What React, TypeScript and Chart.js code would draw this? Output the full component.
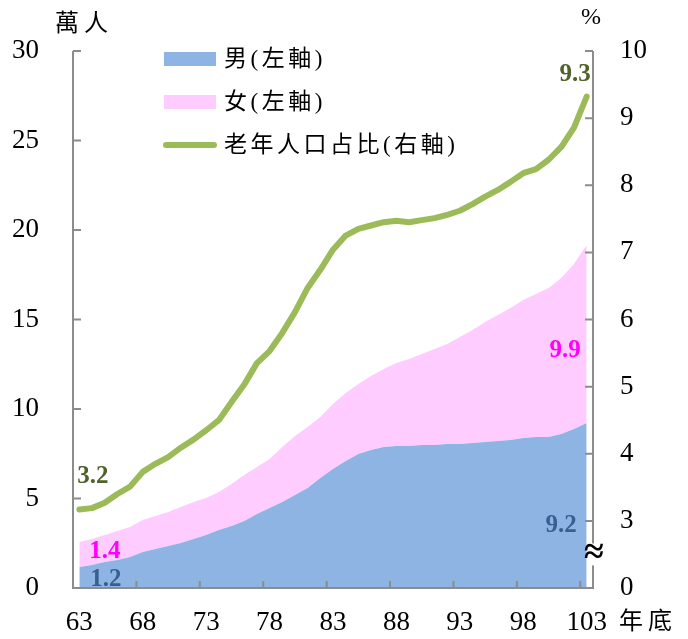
import React, { useEffect, useRef } from "react";
import { Chart, registerables } from "chart.js";

Chart.register(...registerables);

const years: string[] = [
  "63","64","65","66","67","68","69","70","71","72","73","74","75","76","77","78","79","80","81","82","83",
  "84","85","86","87","88","89","90","91","92","93","94","95","96","97","98","99","100","101","102","103",
];

// 男 (萬人)
const male: number[] = [
  1.17, 1.28, 1.45, 1.56, 1.73, 2.01, 2.18, 2.35, 2.51, 2.74, 2.96, 3.24, 3.46, 3.74, 4.13, 4.47, 4.8, 5.2, 5.59, 6.15, 6.65,
  7.09, 7.49, 7.71, 7.88, 7.93, 7.93, 7.99, 7.99, 8.04, 8.04, 8.1, 8.16, 8.21, 8.27, 8.38, 8.44, 8.44, 8.6, 8.88, 9.22,
];

// 女 (萬人)
const female: number[] = [
  1.4, 1.46, 1.51, 1.62, 1.68, 1.79, 1.84, 1.9, 2.02, 2.06, 2.07, 2.12, 2.35, 2.57, 2.63, 2.74, 3.08, 3.29, 3.4, 3.4, 3.63,
  3.8, 3.91, 4.13, 4.35, 4.64, 4.86, 5.08, 5.36, 5.59, 5.98, 6.31, 6.7, 7.04, 7.37, 7.71, 7.98, 8.32, 8.72, 9.22, 9.94,
];

// 老年人口占比 (%)
const elderShare: number[] = [
  3.17, 3.19, 3.27, 3.4, 3.51, 3.73, 3.85, 3.95, 4.09, 4.21, 4.35, 4.5, 4.77, 5.03, 5.35, 5.53, 5.8, 6.11, 6.47, 6.74, 7.04,
  7.25, 7.35, 7.4, 7.45, 7.47, 7.45, 7.48, 7.51, 7.56, 7.62, 7.72, 7.83, 7.93, 8.05, 8.18, 8.24, 8.38, 8.57, 8.86, 9.32,
];

const leftTicks: number[] = [0, 5, 10, 15, 20, 25, 30];
const rightTicks: number[] = [2, 3, 4, 5, 6, 7, 8, 9, 10];
const rightTickLabels: string[] = ["0", "3", "4", "5", "6", "7", "8", "9", "10"];

const seriesNames = ["男(左軸)", "女(左軸)", "老年人口占比(右軸)"];
const labelFirstShare = "3.2";
const labelLastShare = "9.3";
const labelFirstFemale = "1.4";
const labelLastFemale = "9.9";
const labelFirstMale = "1.2";
const labelLastMale = "9.2";

const BLUE = "#8EB4E3";
const PINK = "#FFCCFF";
const GREEN = "#9BBB59";
const AXIS = "#8C8C8C";
const SERIF = "'Liberation Serif', 'Times New Roman', serif";
const CJK = "'Liberation Serif', 'Noto Sans CJK TC', serif";

const overlay = {
  id: "overlay",
  afterDatasetsDraw(chart: any) {
    const ctx = chart.ctx as CanvasRenderingContext2D;
    const xs = chart.scales.x;
    const ys = chart.scales.y;
    const y1 = chart.scales.y1;
    const ca = chart.chartArea;
    ctx.save();

    // axes
    ctx.strokeStyle = AXIS;
    ctx.lineWidth = 2;
    ctx.beginPath();
    ctx.moveTo(ca.left, ca.top);
    ctx.lineTo(ca.left, ca.bottom);
    ctx.lineTo(ca.right, ca.bottom);
    ctx.lineTo(ca.right, ca.top);
    ctx.stroke();

    ctx.beginPath();
    leftTicks.forEach((v) => {
      const p = ys.getPixelForValue(v);
      ctx.moveTo(ca.left, p);
      ctx.lineTo(ca.left + 8, p);
    });
    rightTicks.forEach((v) => {
      const p = y1.getPixelForValue(v);
      ctx.moveTo(ca.right, p);
      ctx.lineTo(ca.right - 8, p);
    });
    for (let i = 5; i < years.length; i += 5) {
      const p = (xs.getPixelForValue(i - 1) + xs.getPixelForValue(i)) / 2;
      ctx.moveTo(p, ca.bottom);
      ctx.lineTo(p, ca.bottom - 7);
    }
    ctx.stroke();

    // axis break
    const bp = (y1.getPixelForValue(2) + y1.getPixelForValue(3)) / 2;
    ctx.fillStyle = "#FFFFFF";
    ctx.fillRect(ca.right - 1, bp - 11, 3, 22);
    ctx.fillStyle = "#000000";
    ctx.font = `bold 36px ${SERIF}`;
    ctx.textAlign = "center";
    ctx.textBaseline = "middle";
    ctx.fillText("≈", ca.right + 1, bp - 1);

    // unit labels
    ctx.font = `24px ${CJK}`;
    (ctx as any).letterSpacing = "5px";
    ctx.textAlign = "left";
    ctx.fillText("萬人", 55, ca.top - 26);
    ctx.fillText("年底", ca.right + 26, ca.bottom + 35);
    (ctx as any).letterSpacing = "0px";
    ctx.font = `24px ${SERIF}`;
    ctx.textAlign = "center";
    ctx.fillText("%", ca.right - 2, ca.top - 33);

    // data labels
    const n = years.length - 1;
    const px0 = xs.getPixelForValue(0);
    const pxN = xs.getPixelForValue(n);
    ctx.font = `bold 25px ${SERIF}`;
    ctx.textBaseline = "middle";
    ctx.fillStyle = "#4F6228";
    ctx.textAlign = "left";
    ctx.fillText(labelFirstShare, px0 - 2, y1.getPixelForValue(elderShare[0]) - 33);
    ctx.textAlign = "right";
    ctx.fillText(labelLastShare, pxN + 4, y1.getPixelForValue(elderShare[n]) - 22);

    ctx.fillStyle = "#FF00FF";
    ctx.textAlign = "left";
    ctx.fillText(labelFirstFemale, px0 + 10, ys.getPixelForValue(male[0] + female[0]) + 10);
    ctx.textAlign = "right";
    ctx.fillText(labelLastFemale, pxN - 6, ys.getPixelForValue(male[n] + female[n] / 2) + 17);

    ctx.fillStyle = "#376092";
    ctx.textAlign = "left";
    ctx.fillText(labelFirstMale, px0 + 11, ys.getPixelForValue(male[0]) + 12);
    ctx.textAlign = "right";
    ctx.fillText(labelLastMale, pxN - 10, ys.getPixelForValue(3.5));

    // legend
    const lx = 164;
    const rows = [59, 102, 145];
    ctx.fillStyle = BLUE;
    ctx.fillRect(lx, rows[0] - 7, 52, 14);
    ctx.fillStyle = PINK;
    ctx.fillRect(lx, rows[1] - 7, 52, 14);
    ctx.strokeStyle = GREEN;
    ctx.lineWidth = 6;
    ctx.lineCap = "round";
    ctx.beginPath();
    ctx.moveTo(lx + 2, rows[2]);
    ctx.lineTo(lx + 50, rows[2]);
    ctx.stroke();
    ctx.fillStyle = "#000000";
    ctx.font = `23px ${CJK}`;
    (ctx as any).letterSpacing = "3.5px";
    ctx.textAlign = "left";
    ctx.textBaseline = "middle";
    seriesNames.forEach((s, i) => ctx.fillText(s, lx + 60, rows[i] + 1));
    ctx.restore();
  },
};

export default function App() {
  const ref = useRef<HTMLCanvasElement | null>(null);
  useEffect(() => {
    if (!ref.current) return;
    const chart = new Chart(ref.current, {
      type: "line",
      data: {
        labels: years,
        datasets: [
          {
            label: seriesNames[0],
            data: male,
            yAxisID: "y",
            backgroundColor: BLUE,
            borderWidth: 0,
            pointRadius: 0,
            fill: "origin",
            stack: "pop",
            order: 2,
          },
          {
            label: seriesNames[1],
            data: female,
            yAxisID: "y",
            backgroundColor: PINK,
            borderWidth: 0,
            pointRadius: 0,
            fill: "-1",
            stack: "pop",
            order: 3,
          },
          {
            label: seriesNames[2],
            data: elderShare,
            yAxisID: "y1",
            borderColor: GREEN,
            borderWidth: 6,
            borderCapStyle: "round",
            borderJoinStyle: "round",
            pointRadius: 0,
            fill: false,
            order: 0,
          },
        ],
      },
      options: {
        responsive: false,
        animation: false,
        devicePixelRatio: 1,
        layout: { padding: { top: 51, left: 0, right: 0, bottom: 0 } },
        plugins: { legend: { display: false }, tooltip: { enabled: false } },
        scales: {
          x: {
            type: "category",
            offset: true,
            grid: { display: false },
            border: { display: false },
            ticks: {
              autoSkip: false,
              maxRotation: 0,
              padding: 11,
              color: "#000",
              font: { family: SERIF, size: 27 },
              callback: (_v: any, i: number) => (i % 5 === 0 ? years[i] : ""),
            },
            afterFit: (s: any) => {
              s.height = 51;
            },
          },
          y: {
            position: "left",
            stacked: true,
            min: 0,
            max: 30,
            grid: { display: false },
            border: { display: false },
            afterBuildTicks: (s: any) => {
              s.ticks = leftTicks.map((v) => ({ value: v }));
            },
            ticks: {
              padding: 26,
              color: "#000",
              font: { family: SERIF, size: 27 },
            },
            afterFit: (s: any) => {
              s.width = 73;
            },
          },
          y1: {
            position: "right",
            min: 2,
            max: 10,
            grid: { display: false },
            border: { display: false },
            afterBuildTicks: (s: any) => {
              s.ticks = rightTicks.map((v) => ({ value: v }));
            },
            ticks: {
              padding: 19,
              color: "#000",
              font: { family: SERIF, size: 27 },
              callback: (v: any) => rightTickLabels[rightTicks.indexOf(Number(v))] ?? "",
            },
            afterFit: (s: any) => {
              s.width = 95;
            },
          },
        },
      },
      plugins: [overlay],
    } as any);
    return () => chart.destroy();
  }, []);
  return (
    <div style={{ position: "fixed", left: 0, top: 0, width: 688, height: 639, background: "#fff" }}>
      <canvas ref={ref} width={688} height={639} />
    </div>
  );
}
